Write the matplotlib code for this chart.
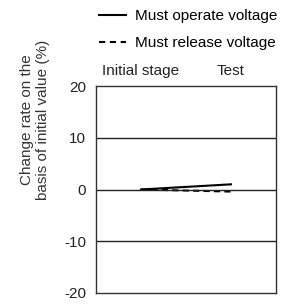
import matplotlib.pyplot as plt
from matplotlib.lines import Line2D

plt.rcParams['font.family'] = ['Liberation Sans', 'DejaVu Sans']
plt.rcParams['axes.unicode_minus'] = False

stages = ['Initial stage', 'Test']
operate = [0, 1.0]
release = [0, -0.4]
yticks = [-20, -10, 0, 10, 20]

fig = plt.figure(figsize=(2.87, 3.07), dpi=100)
ax = fig.add_axes([96 / 287, 14 / 307, 180 / 287, 207 / 307])

ax.plot([0, 1], operate, color='black', lw=1.5)
ax.plot([0, 1], release, color='black', lw=1.5, ls=(0, (3, 2)))

ax.set_xlim(-0.5, 1.5)
ax.set_ylim(-20, 20)
ax.set_yticks(yticks)
ax.set_xticks([0, 1])
ax.set_xticklabels(stages)
ax.xaxis.tick_top()
ax.tick_params(axis='both', length=0, labelsize=11, colors='#222222', pad=7)
ax.tick_params(axis='x', pad=6)
for y in [-10, 0, 10]:
    ax.axhline(y, color='#222222', lw=1)
for s in ax.spines.values():
    s.set_color('#333333')
    s.set_linewidth(1)

fig.text(35 / 287, 1 - 120 / 307, 'Change rate on the\nbasis of initial value (%)',
         rotation=90, ha='center', va='center', fontsize=11, color='#333333',
         linespacing=1.1, multialignment='center')

handles = [Line2D([], [], color='black', lw=1.5),
           Line2D([], [], color='black', lw=1.5, ls=(0, (3, 2.2)))]
fig.legend(handles, ['Must operate voltage', 'Must release voltage'],
           loc='upper right', bbox_to_anchor=(1.015, 1.015), frameon=False,
           fontsize=11, handlelength=1.8, labelspacing=0.85, handletextpad=0.6)

fig.savefig('out.png', dpi=100)
